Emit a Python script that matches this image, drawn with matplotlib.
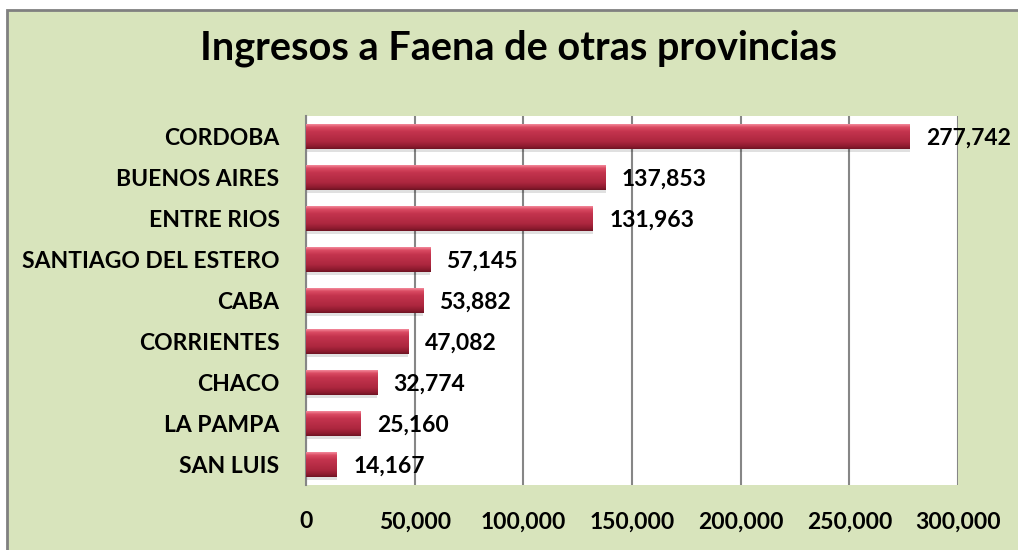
import matplotlib
matplotlib.use("Agg")
import matplotlib.pyplot as plt
import matplotlib.patches as mpatches
from matplotlib.colors import LinearSegmentedColormap
import numpy as np

provincias = ["CORDOBA", "BUENOS AIRES", "ENTRE RIOS", "SANTIAGO DEL ESTERO",
              "CABA", "CORRIENTES", "CHACO", "LA PAMPA", "SAN LUIS"]
ingresos = [277742, 137853, 131963, 57145, 53882, 47082, 32774, 25160, 14167]
xticks = [0, 50000, 100000, 150000, 200000, 250000, 300000]

FONT = ["Lato", "DejaVu Sans"]
BG = "#D8E4BC"
FS = 16.5

fig = plt.figure(figsize=(10.18, 5.5), dpi=100, facecolor="white")

# chart area (green panel with gray outline on top/left)
fig.patches.append(mpatches.Rectangle((7 / 1018, -0.05), 1.5, 1 - 10 / 550 + 0.05,
                                      transform=fig.transFigure, facecolor=BG,
                                      edgecolor="#808080", linewidth=2, zorder=-10))

ax = fig.add_axes([306 / 1018, 1 - 485 / 550, (958 - 306) / 1018, (485 - 116) / 550])
ax.set_facecolor("white")

y = np.arange(len(provincias))
h = 0.6

# shadow under each bar
ax.barh(y + 0.08, ingresos, height=h, left=0, color="#000000", alpha=0.12, zorder=2)
bars = ax.barh(y, ingresos, height=h, color="#B82B45", zorder=3)

# vertical gradient to fake the bevelled look
cmap = LinearSegmentedColormap.from_list(
    "bevel", [(0, "#F3889A"), (0.12, "#DA4A62"), (0.3, "#C4344E"),
              (0.7, "#AD273F"), (0.9, "#8E1B2F"), (1, "#6E1423")])
grad = np.linspace(0, 1, 64).reshape(-1, 1)
for b, val, yi in zip(bars, ingresos, y):
    im = ax.imshow(grad, cmap=cmap, aspect="auto", zorder=4,
                   extent=(0, val, yi + h / 2, yi - h / 2), interpolation="bilinear")
    im.set_clip_path(b)
    ax.text(val + 7500, yi + 0.05, f"{val:,}", ha="left", va="center",
            fontsize=FS, fontweight="bold", family=FONT, zorder=5, clip_on=False)

ax.set_xlim(0, 300000)
ax.set_ylim(len(provincias) - 0.5, -0.5)
ax.set_xticks(xticks)
ax.set_xticklabels([f"{v:,}" for v in xticks], fontsize=FS, fontweight="bold", family=FONT)
ax.set_yticks(y)
ax.set_yticklabels(provincias, fontsize=FS, fontweight="bold", family=FONT)
ax.tick_params(axis="x", length=0, pad=19)
ax.tick_params(axis="y", length=0, pad=19)
ax.grid(axis="x", color="#868686", linewidth=1.5, zorder=1)
ax.set_axisbelow(True)
for s in ["top", "right", "bottom"]:
    ax.spines[s].set_visible(False)
ax.spines["left"].set_color("#868686")
ax.spines["left"].set_linewidth(1.5)

fig.text(518 / 1018, 1 - 48 / 550, "Ingresos a Faena de otras provincias",
         ha="center", va="center", fontsize=28.5, fontweight="bold", family=FONT)

fig.savefig("out.png", dpi=100, facecolor=fig.get_facecolor())
